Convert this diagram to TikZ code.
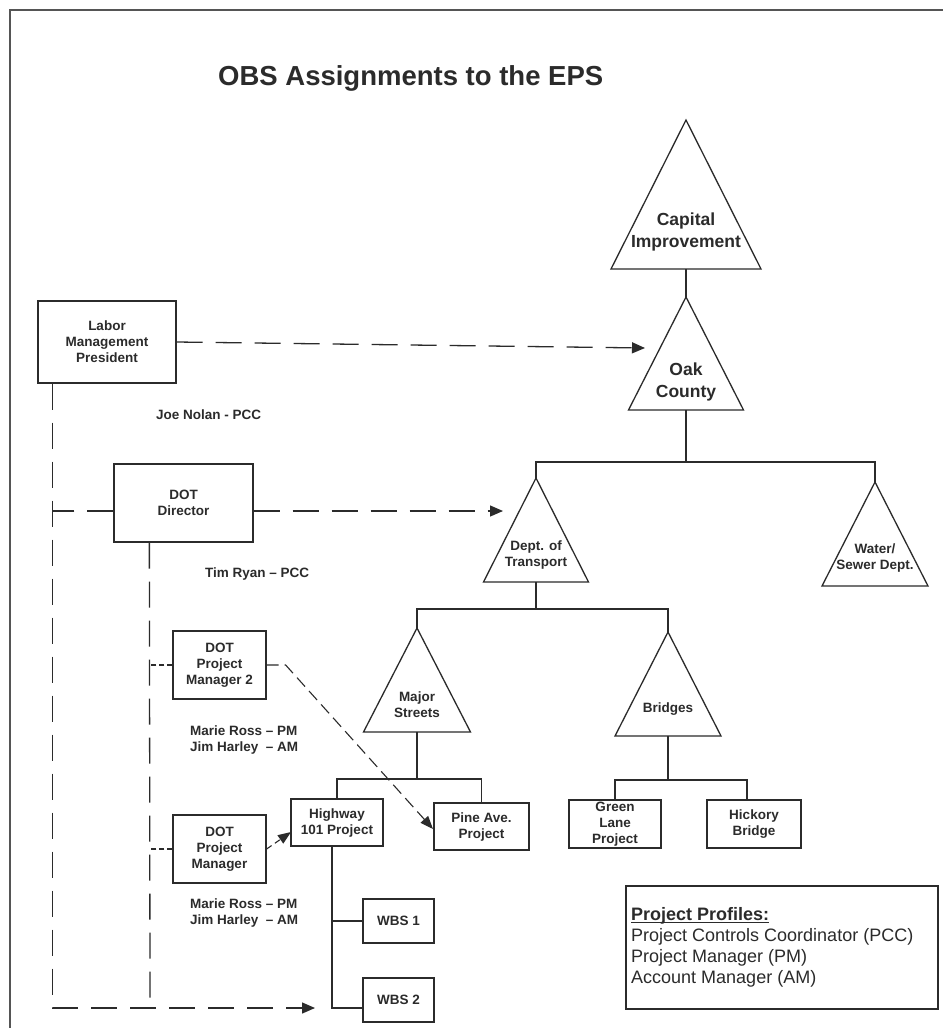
\documentclass[tikz,border=0pt]{standalone}
\usepackage{fontspec}
\setmainfont{Liberation Sans}
\usetikzlibrary{arrows.meta,calc}
\definecolor{ink}{HTML}{2B2B2B}
\definecolor{framecol}{HTML}{555555}
\newcommand\BoxFont{\fontsize{13.5}{16}\selectfont\bfseries}
\newcommand\BigFontA{\fontsize{17.5}{22.5}\selectfont\bfseries}
\newcommand\ULine[1]{\leavevmode\setbox0=\hbox{#1}\rlap{\rule[-2.8pt]{\wd0}{1.1pt}}\box0}
\newcommand\DrawTri[5]{%
  \coordinate (#1-top) at (#2,#3);
  \coordinate (#1-bot) at (#2,#4);
  \draw[tri] (#1-top) -- ({#2-#5},#4) -- ({#2+#5},#4) -- cycle;
}
\tikzset{
  every node/.style={text=ink},
  conn/.style={draw=ink, line width=1.3pt},
  dline/.style={conn, dash pattern=on 26pt off 13pt},
  sline/.style={conn, line width=1.1pt, dash pattern=on 12pt off 6pt},
  tline/.style={conn, line width=1.1pt, dash pattern=on 5pt off 3pt},
  vline/.style={conn, line width=1.1pt, dash pattern=on 6pt off 4pt},
  tip/.style={-{Triangle[length=13pt,width=11pt]}},
  stip/.style={-{Triangle[length=13pt,width=10pt]}},
  box/.style={draw=ink, line width=1.3pt, rectangle, inner sep=0pt, align=center, font=\BoxFont},
  tri/.style={draw=ink, line width=1.3pt, line join=miter},
  lbl/.style={font=\BoxFont, inner sep=0pt, align=left},
  trilbl/.style={font=\BoxFont, inner sep=0pt, align=center},
}
\begin{document}
\begin{tikzpicture}[x=1pt,y=-1pt]
\useasboundingbox (0,0) rectangle (943,1028);
\fill[white] (0,0) rectangle (943,1028);
\draw[framecol, line width=1.6pt] (10,1028) -- (10,10) -- (943,10);

\node[font=\fontsize{27.5}{32}\selectfont\bfseries, anchor=west, inner sep=0pt] (title) at (218,78) {OBS Assignments to the EPS};

% triangles
\DrawTri{cap}{686}{120}{269}{75}
\node[font=\BigFontA, align=center, inner sep=0pt] (captext) at (686,232) {Capital\\Improvement};
\DrawTri{oak}{686}{297}{410}{57.5}
\node[font=\BigFontA, align=center, inner sep=0pt] (oaktext) at (686,382) {Oak\\County};
\DrawTri{dot}{536}{478}{582}{52.5}
\node[trilbl] (dottext) at (536,555) {Dept. of\\Transport};
\DrawTri{water}{875}{482}{586}{53}
\node[trilbl] (watertext) at (875,558.5) {Water/\\Sewer Dept.};
\DrawTri{major}{417}{628}{732}{53.5}
\node[trilbl] (majortext) at (417,705) {Major\\Streets};
\DrawTri{bridges}{668}{632}{736}{53}
\node[trilbl] (bridgestext) at (668,709) {Bridges};

% boxes
\node[box, minimum width=138pt, minimum height=82pt] (labor) at (107,342) {Labor\\Management\\President};
\node[box, minimum width=139pt, minimum height=78pt] (dir) at (183.5,503) {DOT\\Director};
\node[box, minimum width=93pt, minimum height=68pt] (pm2) at (219.5,665) {DOT\\Project\\Manager 2};
\node[box, minimum width=93pt, minimum height=68pt] (pm) at (219.5,849) {DOT\\Project\\Manager};
\node[box, minimum width=92pt, minimum height=47pt] (hwy) at (337,822.5) {Highway\\101 Project};
\node[box, minimum width=95pt, minimum height=47pt] (pine) at (481.5,826.5) {Pine Ave.\\Project};
\node[box, minimum width=92pt, minimum height=48pt] (green) at (615,824) {Green\\Lane\\Project};
\node[box, minimum width=94pt, minimum height=48pt] (hick) at (754,824) {Hickory\\Bridge};
\node[box, minimum width=71pt, minimum height=44pt] (wbs1) at (398.5,921) {WBS 1};
\node[box, minimum width=71pt, minimum height=44pt] (wbs2) at (398.5,1000) {WBS 2};
\node[draw=ink, line width=1.3pt, minimum width=312pt, minimum height=123pt, inner sep=0pt] (legend) at (782,947.5) {};
\node[anchor=west, align=left, inner sep=0pt, font=\fontsize{18}{21}\selectfont] (legtext) at (631,947.5) {\ULine{\textbf{Project Profiles:}}\\Project Controls Coordinator (PCC)\\Project Manager (PM)\\Account Manager (AM)};

% tree connectors
\draw[conn] (cap-bot) -- (oak-top);
\coordinate (j1) at (686,462);
\draw[conn] (oak-bot) -- (j1);
\draw[conn] (dot-top) |- (j1);
\draw[conn] (water-top) |- (j1);
\coordinate (j2) at (536,609);
\draw[conn] (dot-bot) -- (j2);
\draw[conn] (major-top) |- (j2);
\draw[conn] (bridges-top) |- (j2);
\coordinate (j3) at (417,779);
\draw[conn] (major-bot) -- (j3);
\draw[conn] (hwy.north) |- (j3);
\draw[conn] (pine.north) |- (j3);
\coordinate (j4) at (668,780);
\draw[conn] (bridges-bot) -- (j4);
\draw[conn] (green.north) |- (j4);
\coordinate (hicktop) at ($(hick.north)+(-7,0)$);
\draw[conn] (hicktop) |- (j4);
\coordinate (hv) at ($(hwy.south)+(-5,0)$);
\draw[conn] (hv) |- (wbs1.west);
\coordinate (w2in) at ($(wbs2.west)+(0,8)$);
\draw[conn] (hv) |- (w2in);

% dashed OBS assignments
\coordinate (a1) at (645,348);
\draw[dline, tip] (labor.east) -- (a1);
\coordinate (lv) at ($(labor.south west)+(15,0)$);
\coordinate (a3) at (315,1008);
\draw[dline, tip] (lv) |- (a3);
\coordinate (dirin) at ($(dir.west)+(0,8)$);
\draw[dline] (dirin) -- (lv |- dirin);
\coordinate (dirout) at ($(dir.east)+(0,8)$);
\coordinate (a2) at (503,511);
\draw[dline, tip] (dirout) -- (a2);
\coordinate (dv) at ($(dir.south west)+(36,0)$);
\coordinate (dvend) at (150,1000);
\draw[dline] (dv) -- (dvend);
\draw[tline] (pm2.west) -- (dv |- pm2.west);
\draw[tline] (pm.west) -- (dv |- pm.west);
\coordinate (pm2bend) at ($(pm2.east)+(19,0)$);
\coordinate (a4) at (433,829);
\draw[sline, stip] (pm2.east) -- (pm2bend) -- (a4);
\coordinate (a5) at (291,832);
\draw[vline, stip] (pm.east) -- (a5);

% labels
\node[lbl, anchor=west] (joe) at (156,415) {Joe Nolan - PCC};
\node[lbl, anchor=west] (tim) at (205,574) {Tim Ryan -- PCC};
\node[lbl, anchor=west] (names2) at (190,739.5) {Marie Ross -- PM\\Jim Harley\ \ -- AM};
\node[lbl, anchor=west] (names1) at (190,913) {Marie Ross -- PM\\Jim Harley\ \ -- AM};
\end{tikzpicture}
\end{document}
